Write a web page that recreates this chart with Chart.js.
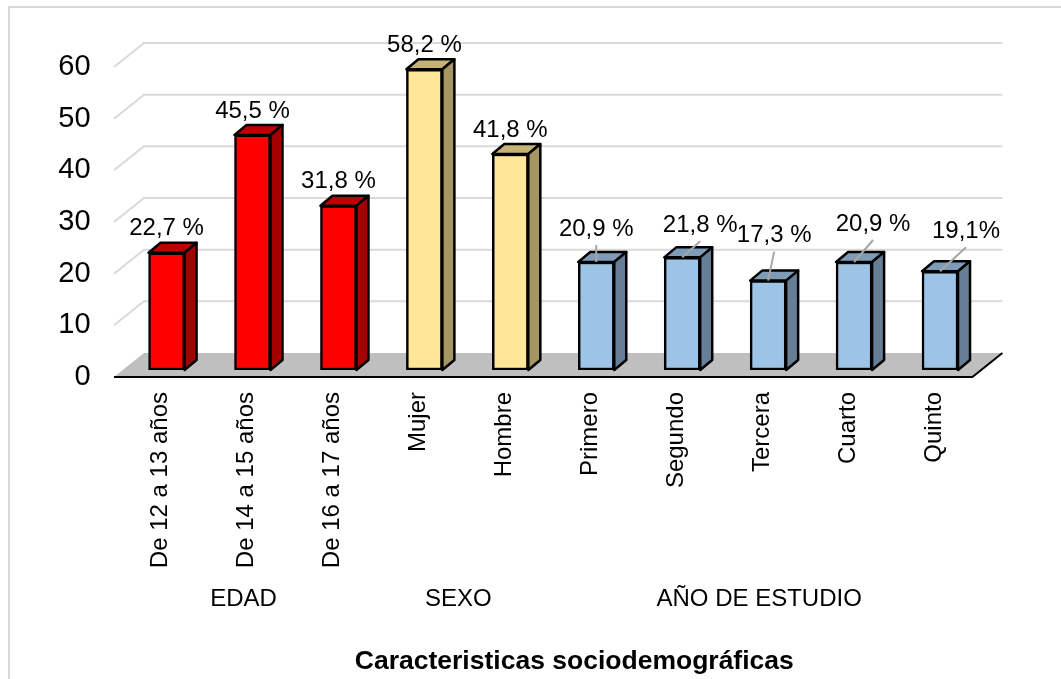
<!DOCTYPE html>
<html lang="es">
<head>
<meta charset="utf-8">
<title>Caracteristicas sociodemográficas</title>
<script src="https://cdn.jsdelivr.net/npm/chart.js@4/dist/chart.umd.js"></script>
<style>
    html, body { margin: 0; padding: 0; background: #fff; overflow: hidden; }
    canvas { display: block; }
</style>
</head>
<body>
<canvas id="grafico" width="1061" height="679"></canvas>
<script>
// --- Datos ---
const categorias = ['De 12 a 13 años', 'De 14 a 15 años', 'De 16 a 17 años', 'Mujer', 'Hombre',
    'Primero', 'Segundo', 'Tercera', 'Cuarto', 'Quinto'];
const valores = [22.7, 45.5, 31.8, 58.2, 41.8, 20.9, 21.8, 17.3, 20.9, 19.1];
const etiquetas = ['22,7 %', '45,5 %', '31,8 %', '58,2 %', '41,8 %', '20,9 %', '21,8 %', '17,3 %', '20,9 %', '19,1%'];
const ticksY = [0, 10, 20, 30, 40, 50, 60];
const grupos = ['EDAD', 'SEXO', 'AÑO DE ESTUDIO'];
const grupoDesde = [0, 3, 5];
const grupoHasta = [2, 4, 9];
const tituloX = 'Caracteristicas sociodemográficas';

// --- Estilos ---
const ROJO = ['#ff0000', '#bf0000', '#a50000'];
const AMARILLO = ['#ffe699', '#c6b276', '#a69663'];
const AZUL = ['#9dc3e6', '#7e9cb8', '#667f96'];
const colorGrupo = [ROJO, ROJO, ROJO, AMARILLO, AMARILLO, AZUL, AZUL, AZUL, AZUL, AZUL];

// desplazamiento de cada etiqueta respecto al centro de la barra
const etiquetaDx = [0, 0, 0, 0, 0, 0, 18, 6, 19, 26];
const etiquetaDy = [-24, -24, -24, -24, -24, -33, -32, -45, -38, -40];
const conGuia = [false, false, false, false, false, true, true, true, true, true];

const PROF_X = 12, PROF_Y = 10; // profundidad de las barras

function poligono(ctx, puntos) {
    ctx.beginPath();
    puntos.forEach((p, i) => i ? ctx.lineTo(p[0], p[1]) : ctx.moveTo(p[0], p[1]));
    ctx.closePath();
}

const escena3D = {
    id: 'escena3D',
    afterLayout(chart) {
        // el título va centrado sobre toda la zona del eje, no sobre el área de barras
        chart.scales.x.right += 42;
        chart.scales.x.bottom += 3;
    },
    beforeDatasetsDraw(chart) {
        const { ctx, chartArea, scales: { x, y } } = chart;
        const izq = chartArea.left, der = chartArea.right;
        ctx.save();

        // marco exterior: solo arriba e izquierda, el resto queda fuera del recorte
        ctx.strokeStyle = '#d9d9d9';
        ctx.lineWidth = 2;
        ctx.beginPath();
        ctx.moveTo(9, chart.height);
        ctx.lineTo(9, 7);
        ctx.lineTo(chart.width, 7);
        ctx.stroke();

        // piso
        const y0 = y.getPixelForValue(0);
        poligono(ctx, [[izq - 9.6, y0 + 7], [der - 10.6, y0 + 7], [der + 19.4, y0 - 17], [izq + 20.4, y0 - 17]]);
        ctx.fillStyle = '#bfbfbf';
        ctx.fill();
        ctx.strokeStyle = '#000';
        ctx.beginPath();
        ctx.moveTo(izq - 9.6, y0 + 7);
        ctx.lineTo(der - 10.6, y0 + 7);
        ctx.lineTo(der + 19.4, y0 - 17);
        ctx.stroke();

        // rejilla en perspectiva
        ctx.strokeStyle = '#d9d9d9';
        ticksY.slice(1).forEach(v => {
            const py = y.getPixelForValue(v);
            ctx.beginPath();
            ctx.moveTo(izq - 9.6, py + 7);
            ctx.lineTo(izq + 20.4, py - 17);
            ctx.lineTo(der + 19.4, py - 17);
            ctx.stroke();
        });

        // caras superior y lateral
        chart.getDatasetMeta(0).data.forEach((barra, i) => {
            const a = barra.getProps(['x', 'y', 'base', 'width'], true);
            const l = a.x - a.width / 2, r = a.x + a.width / 2;
            ctx.lineWidth = 2.5;
            ctx.lineJoin = 'round';
            ctx.strokeStyle = '#000';
            poligono(ctx, [[l, a.y], [l + PROF_X, a.y - PROF_Y], [r + PROF_X, a.y - PROF_Y], [r, a.y]]);
            ctx.fillStyle = colorGrupo[i][1];
            ctx.fill();
            ctx.stroke();
            poligono(ctx, [[r, a.y], [r + PROF_X, a.y - PROF_Y], [r + PROF_X, a.base - PROF_Y], [r, a.base]]);
            ctx.fillStyle = colorGrupo[i][2];
            ctx.fill();
            ctx.stroke();
        });
        ctx.restore();
    },
    afterDatasetsDraw(chart) {
        const { ctx, scales: { x, y } } = chart;
        ctx.save();
        ctx.textAlign = 'center';
        ctx.textBaseline = 'middle';
        ctx.fillStyle = '#000';
        ctx.font = '24px "Liberation Sans"';

        // etiquetas de valor y líneas guía
        chart.getDatasetMeta(0).data.forEach((barra, i) => {
            const px = barra.x + etiquetaDx[i], py = barra.y + etiquetaDy[i];
            if (conGuia[i]) {
                ctx.strokeStyle = '#a6a6a6';
                ctx.lineWidth = 2;
                ctx.beginPath();
                ctx.moveTo(px, py + 16);
                ctx.lineTo(barra.x, barra.y);
                ctx.stroke();
            }
            ctx.fillText(etiquetas[i], px, py);
        });

        // segundo nivel de categorías
        grupos.forEach((g, i) => {
            const centro = (x.getPixelForValue(grupoDesde[i]) + x.getPixelForValue(grupoHasta[i])) / 2;
            ctx.fillText(g, centro - 9, y.bottom + 229);
        });
        ctx.restore();
    }
};

// --- Gráfico ---
new Chart(document.getElementById('grafico'), {
    type: 'bar',
    data: {
        labels: categorias,
        datasets: [{
            data: valores,
            backgroundColor: colorGrupo.map(c => c[0]),
            borderColor: '#000',
            borderWidth: 2.5,
            borderSkipped: false,
            barThickness: 36
        }]
    },
    options: {
        responsive: false,
        animation: false,
        devicePixelRatio: 1,
        layout: { padding: { top: 60, right: 78, bottom: 0, left: 0 } },
        plugins: { legend: { display: false }, tooltip: { enabled: false } },
        scales: {
            x: {
                afterFit(scale) { scale.height = 309; },
                grid: { display: false },
                border: { display: false },
                title: {
                    display: true,
                    text: tituloX,
                    color: '#000',
                    font: { family: '"Liberation Sans"', size: 26.5, weight: 'bold' }
                },
                ticks: {
                    autoSkip: false,
                    minRotation: 90,
                    maxRotation: 90,
                    labelOffset: -6,
                    padding: 14,
                    color: '#000',
                    font: { family: '"Liberation Sans"', size: 24 }
                }
            },
            y: {
                min: 0,
                max: 60,
                afterFit(scale) { scale.width = 123.6; },
                afterBuildTicks(scale) { scale.ticks = ticksY.map(v => ({ value: v })); },
                grid: { display: false, drawTicks: false },
                border: { display: false },
                ticks: {
                    padding: 33,
                    labelOffset: 7,
                    color: '#000',
                    font: { family: '"Liberation Sans"', size: 29 }
                }
            }
        }
    },
    plugins: [escena3D]
});
</script>
</body>
</html>
